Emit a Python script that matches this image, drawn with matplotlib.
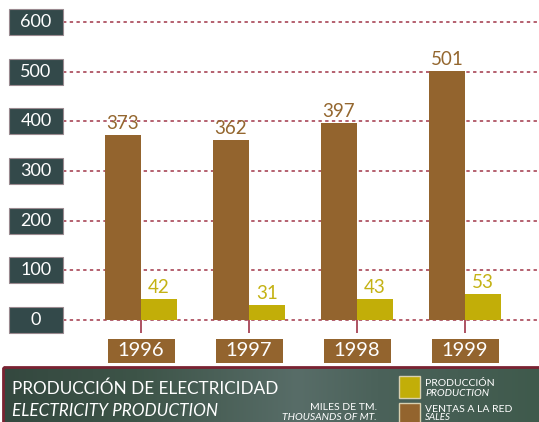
import matplotlib
matplotlib.use("Agg")
import matplotlib.pyplot as plt
import matplotlib.transforms as mtransforms
from matplotlib.patches import Rectangle
import numpy as np

# ---- data ----
years = ["1996", "1997", "1998", "1999"]
ventas = [373, 362, 397, 501]        # VENTAS A LA RED / SALES
produccion = [42, 31, 43, 53]        # PRODUCCIÓN / PRODUCTION
yticks = [0, 100, 200, 300, 400, 500, 600]

title_es = "PRODUCCIÓN DE ELECTRICIDAD"
title_en = "ELECTRICITY PRODUCTION"
unit_es = "MILES DE TM."
unit_en = "THOUSANDS OF MT."
leg_prod = ("PRODUCCIÓN", "PRODUCTION")
leg_vent = ("VENTAS A LA RED", "SALES")

# ---- style ----
BROWN = "#93642E"
YELLOW = "#C2AE08"
BROWN_TXT = "#94672F"
YELLOW_TXT = "#C4B214"
GRID = "#A03548"
PANEL_BORDER = "#7A2232"
BOX = "#33494A"

plt.rcParams["font.family"] = ["Lato", "DejaVu Sans"]

W, H = 539, 422
fig = plt.figure(figsize=(W / 100, H / 100), dpi=100)
fig.patch.set_facecolor("white")

# background axes in pixel coordinates for decoration
bg = fig.add_axes([0, 0, 1, 1])
bg.set_xlim(0, W)
bg.set_ylim(H, 0)
bg.axis("off")

# bottom panel with soft gradient
grad_x = np.linspace(0, 1, 300)
stops_x = [0.0, 0.25, 0.55, 0.7, 1.0]
stops_c = [np.array(matplotlib.colors.to_rgb(c)) for c in
           ["#34483F", "#3D5448", "#586D68", "#4B625A", "#3F5A4C"]]
img = np.zeros((1, len(grad_x), 3))
for k in range(3):
    img[0, :, k] = np.interp(grad_x, stops_x, [c[k] for c in stops_c])
bg.imshow(img, extent=[3, W, H, 367], aspect="auto", zorder=1)
bg.plot([3, W], [367, 367], color=PANEL_BORDER, lw=2, zorder=2, solid_capstyle="butt")
bg.plot([3, 3], [367, H], color=PANEL_BORDER, lw=2, zorder=2, solid_capstyle="butt")

bg.text(12, 394, title_es, color="white", fontsize=12.3, va="baseline", ha="left", zorder=3)
bg.text(12, 416, title_en, color="white", fontsize=12.3, style="italic", va="baseline", ha="left", zorder=3)
bg.text(377, 409.5, unit_es, color="white", fontsize=7.5, va="baseline", ha="right", zorder=3)
bg.text(377, 419.5, unit_en, color="white", fontsize=7.5, style="italic", va="baseline", ha="right", zorder=3)

# legend
bg.add_patch(Rectangle((399, 376), 21, 22, fc=YELLOW, ec="#D8D0B0", lw=1, zorder=3))
bg.add_patch(Rectangle((399, 403), 21, 22, fc=BROWN, ec="#D8D0B0", lw=1, zorder=3))
bg.text(425, 385.5, leg_prod[0], color="white", fontsize=7.5, va="baseline", zorder=3)
bg.text(425, 395.5, leg_prod[1], color="white", fontsize=7.5, style="italic", va="baseline", zorder=3)
bg.text(425, 412.5, leg_vent[0], color="white", fontsize=7.5, va="baseline", zorder=3)
bg.text(425, 420.5, leg_vent[1], color="white", fontsize=7, style="italic", va="baseline", zorder=3)

# ---- main axes ----
px_left, px_right, px_top, px_bot = 63, 539, 22, 320
ax = fig.add_axes([px_left / W, (H - px_bot) / H, (px_right - px_left) / W, (px_bot - px_top) / H])
ax.patch.set_alpha(0)
ax.set_ylim(0, 600)
group_px = 108.0
x0_px = 141.0
ax.set_xlim((px_left - x0_px) / group_px, (px_right - x0_px) / group_px)
for s in ax.spines.values():
    s.set_visible(False)

x = np.arange(len(years))
bw = 36 / group_px
ax.bar(x - bw / 2, ventas, width=bw, color=BROWN, zorder=3)
ax.bar(x + bw / 2, produccion, width=bw, color=YELLOW, zorder=3)

for xi, v in zip(x, ventas):
    ax.annotate(str(v), (xi - bw / 2, v), xytext=(0, 2), textcoords="offset points",
                ha="center", va="bottom", color=BROWN_TXT, fontsize=13.5, zorder=4)
for xi, v in zip(x, produccion):
    ax.annotate(str(v), (xi + bw / 2, v), xytext=(0, 2), textcoords="offset points",
                ha="center", va="bottom", color=YELLOW_TXT, fontsize=13.5, zorder=4)

# grid lines
for v in yticks:
    ax.axhline(v, color=GRID, lw=1.1, ls=(0, (2.2, 2.2)), zorder=1, clip_on=False)

# y tick label boxes
tr_y = mtransforms.blended_transform_factory(ax.transAxes, ax.transData)
box_w = (63 - 9) / (px_right - px_left)
dpu = 600 / (px_bot - px_top)  # data units per pixel
for v in yticks:
    ax.add_patch(Rectangle((-box_w, v - 13 * dpu), box_w, 26 * dpu, transform=tr_y,
                           fc=BOX, ec="#9A8A90", lw=0.8, clip_on=False, zorder=2))
    ax.text(-box_w / 2, v, str(v), transform=tr_y, ha="center", va="center",
            color="white", fontsize=13, clip_on=False, zorder=3)

# x ticks
ax.set_xticks(x)
ax.set_xticklabels([])
ax.tick_params(axis="x", length=9.5, width=1.2, color=GRID, direction="out")
ax.set_yticks([])

# year boxes
tr_x = mtransforms.blended_transform_factory(ax.transData, ax.transAxes)
yb_w = 67 / group_px
yb_h = 24 / (px_bot - px_top)
yb_c = -(351 - px_bot) / (px_bot - px_top)
for xi, yr in zip(x, years):
    ax.add_patch(Rectangle((xi - yb_w / 2, yb_c - yb_h / 2), yb_w, yb_h, transform=tr_x,
                           fc=BROWN, ec="none", clip_on=False, zorder=3))
    ax.text(xi, yb_c, yr, transform=tr_x, ha="center", va="center", color="white",
            fontsize=14.5, clip_on=False, zorder=4)

fig.savefig("out.png", dpi=100)
